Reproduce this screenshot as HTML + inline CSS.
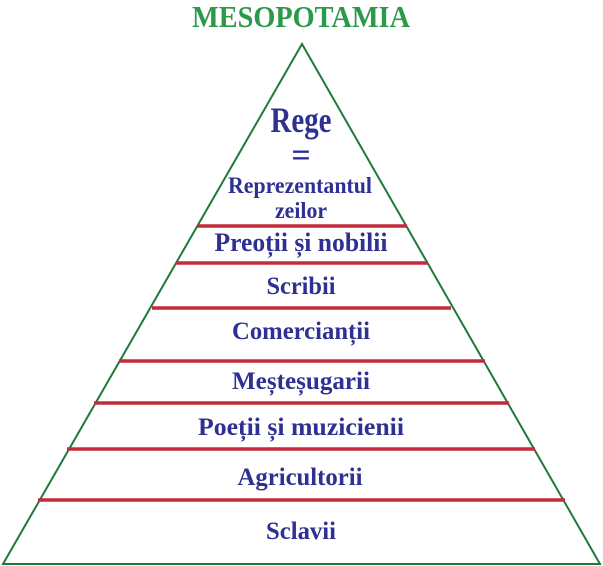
<!DOCTYPE html>
<html><head><meta charset="utf-8"><style>html,body{margin:0;padding:0;background:#fff;width:603px;height:566px;overflow:hidden}</style></head>
<body>
<svg width="603" height="566" viewBox="0 0 603 566" xmlns="http://www.w3.org/2000/svg">
<text x="301" y="27" text-anchor="middle" font-family="Liberation Serif, serif" font-weight="bold" font-size="31" fill="#2a9a4a" textLength="218" lengthAdjust="spacingAndGlyphs">MESOPOTAMIA</text>
<polygon points="302,44 3,564 600,564" fill="none" stroke="#1e7a3a" stroke-width="2"/>
<g stroke="#c32a3c" stroke-width="3.5">
<line x1="197" y1="226" x2="407" y2="226"/>
<line x1="176" y1="263" x2="428" y2="263"/>
<line x1="152" y1="308" x2="451" y2="308"/>
<line x1="119" y1="361" x2="485" y2="361"/>
<line x1="94" y1="403" x2="509" y2="403"/>
<line x1="67" y1="449" x2="535" y2="449"/>
<line x1="38" y1="500" x2="565" y2="500"/>
</g>
<g font-family="Liberation Serif, serif" font-weight="bold" fill="#2e3192" text-anchor="middle">
<text x="301" y="132" font-size="36" textLength="61" lengthAdjust="spacingAndGlyphs">Rege</text>
<text x="301" y="166" font-size="34">=</text>
<text x="300" y="193" font-size="23" textLength="144" lengthAdjust="spacingAndGlyphs">Reprezentantul</text>
<text x="301" y="218" font-size="23" textLength="52" lengthAdjust="spacingAndGlyphs">zeilor</text>
<text x="301" y="251" font-size="26" textLength="173" lengthAdjust="spacingAndGlyphs">Preoții și nobilii</text>
<text x="301" y="294" font-size="25" textLength="69" lengthAdjust="spacingAndGlyphs">Scribii</text>
<text x="301" y="339" font-size="25" textLength="138" lengthAdjust="spacingAndGlyphs">Comercianții</text>
<text x="301" y="389" font-size="25" textLength="138" lengthAdjust="spacingAndGlyphs">Meșteșugarii</text>
<text x="301" y="435" font-size="25" textLength="206" lengthAdjust="spacingAndGlyphs">Poeții și muzicienii</text>
<text x="300" y="485" font-size="25" textLength="125" lengthAdjust="spacingAndGlyphs">Agricultorii</text>
<text x="301" y="539" font-size="25" textLength="70" lengthAdjust="spacingAndGlyphs">Sclavii</text>
</g>
</svg>
</body></html>
